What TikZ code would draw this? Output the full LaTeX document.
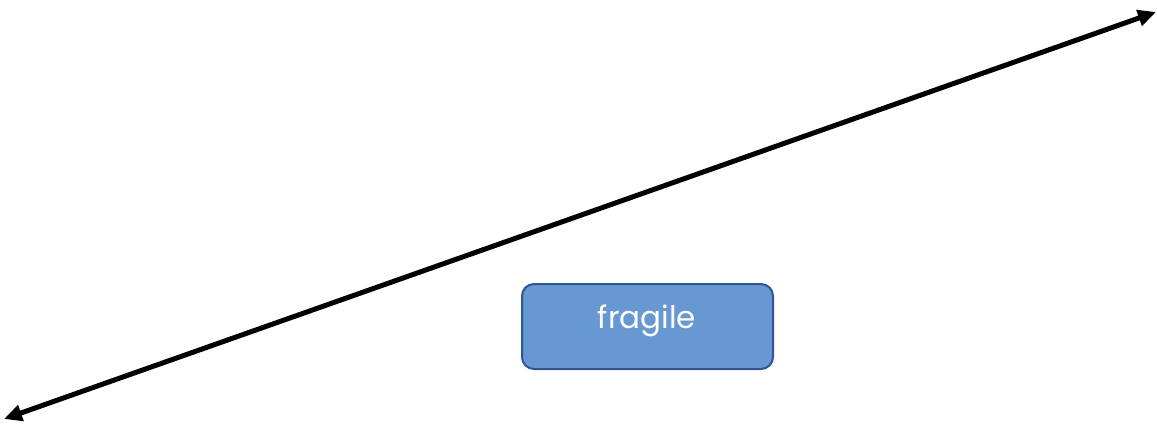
\documentclass[tikz,border=0pt]{standalone}
\usepackage{fontspec}
\setmainfont{Poppins}
\usetikzlibrary{arrows.meta}
\definecolor{boxfill}{HTML}{6798D2}
\definecolor{boxline}{HTML}{2F5597}
\tikzset{
  conn/.style={line width=5pt, {Triangle[length=18pt,width=16pt]}-{Triangle[length=18pt,width=16pt]}},
  labelbox/.style={draw=boxline, line width=2pt, fill=boxfill, rounded corners=12pt},
  labeltext/.style={text=white, font=\fontsize{31}{35}\selectfont, inner sep=0pt}
}
\begin{document}
\begin{tikzpicture}[x=1pt,y=-1pt]
\useasboundingbox (0,0) rectangle (1157,425);
\coordinate (a) at (4,419);
\coordinate (b) at (1156,12);
\draw[conn] (a) -- (b);
\node[labelbox, minimum width=251pt, minimum height=85pt, anchor=north west] (box) at (521,283) {};
\node[labeltext, anchor=base] (t) at (647,328) {fragile};
\end{tikzpicture}
\end{document}
